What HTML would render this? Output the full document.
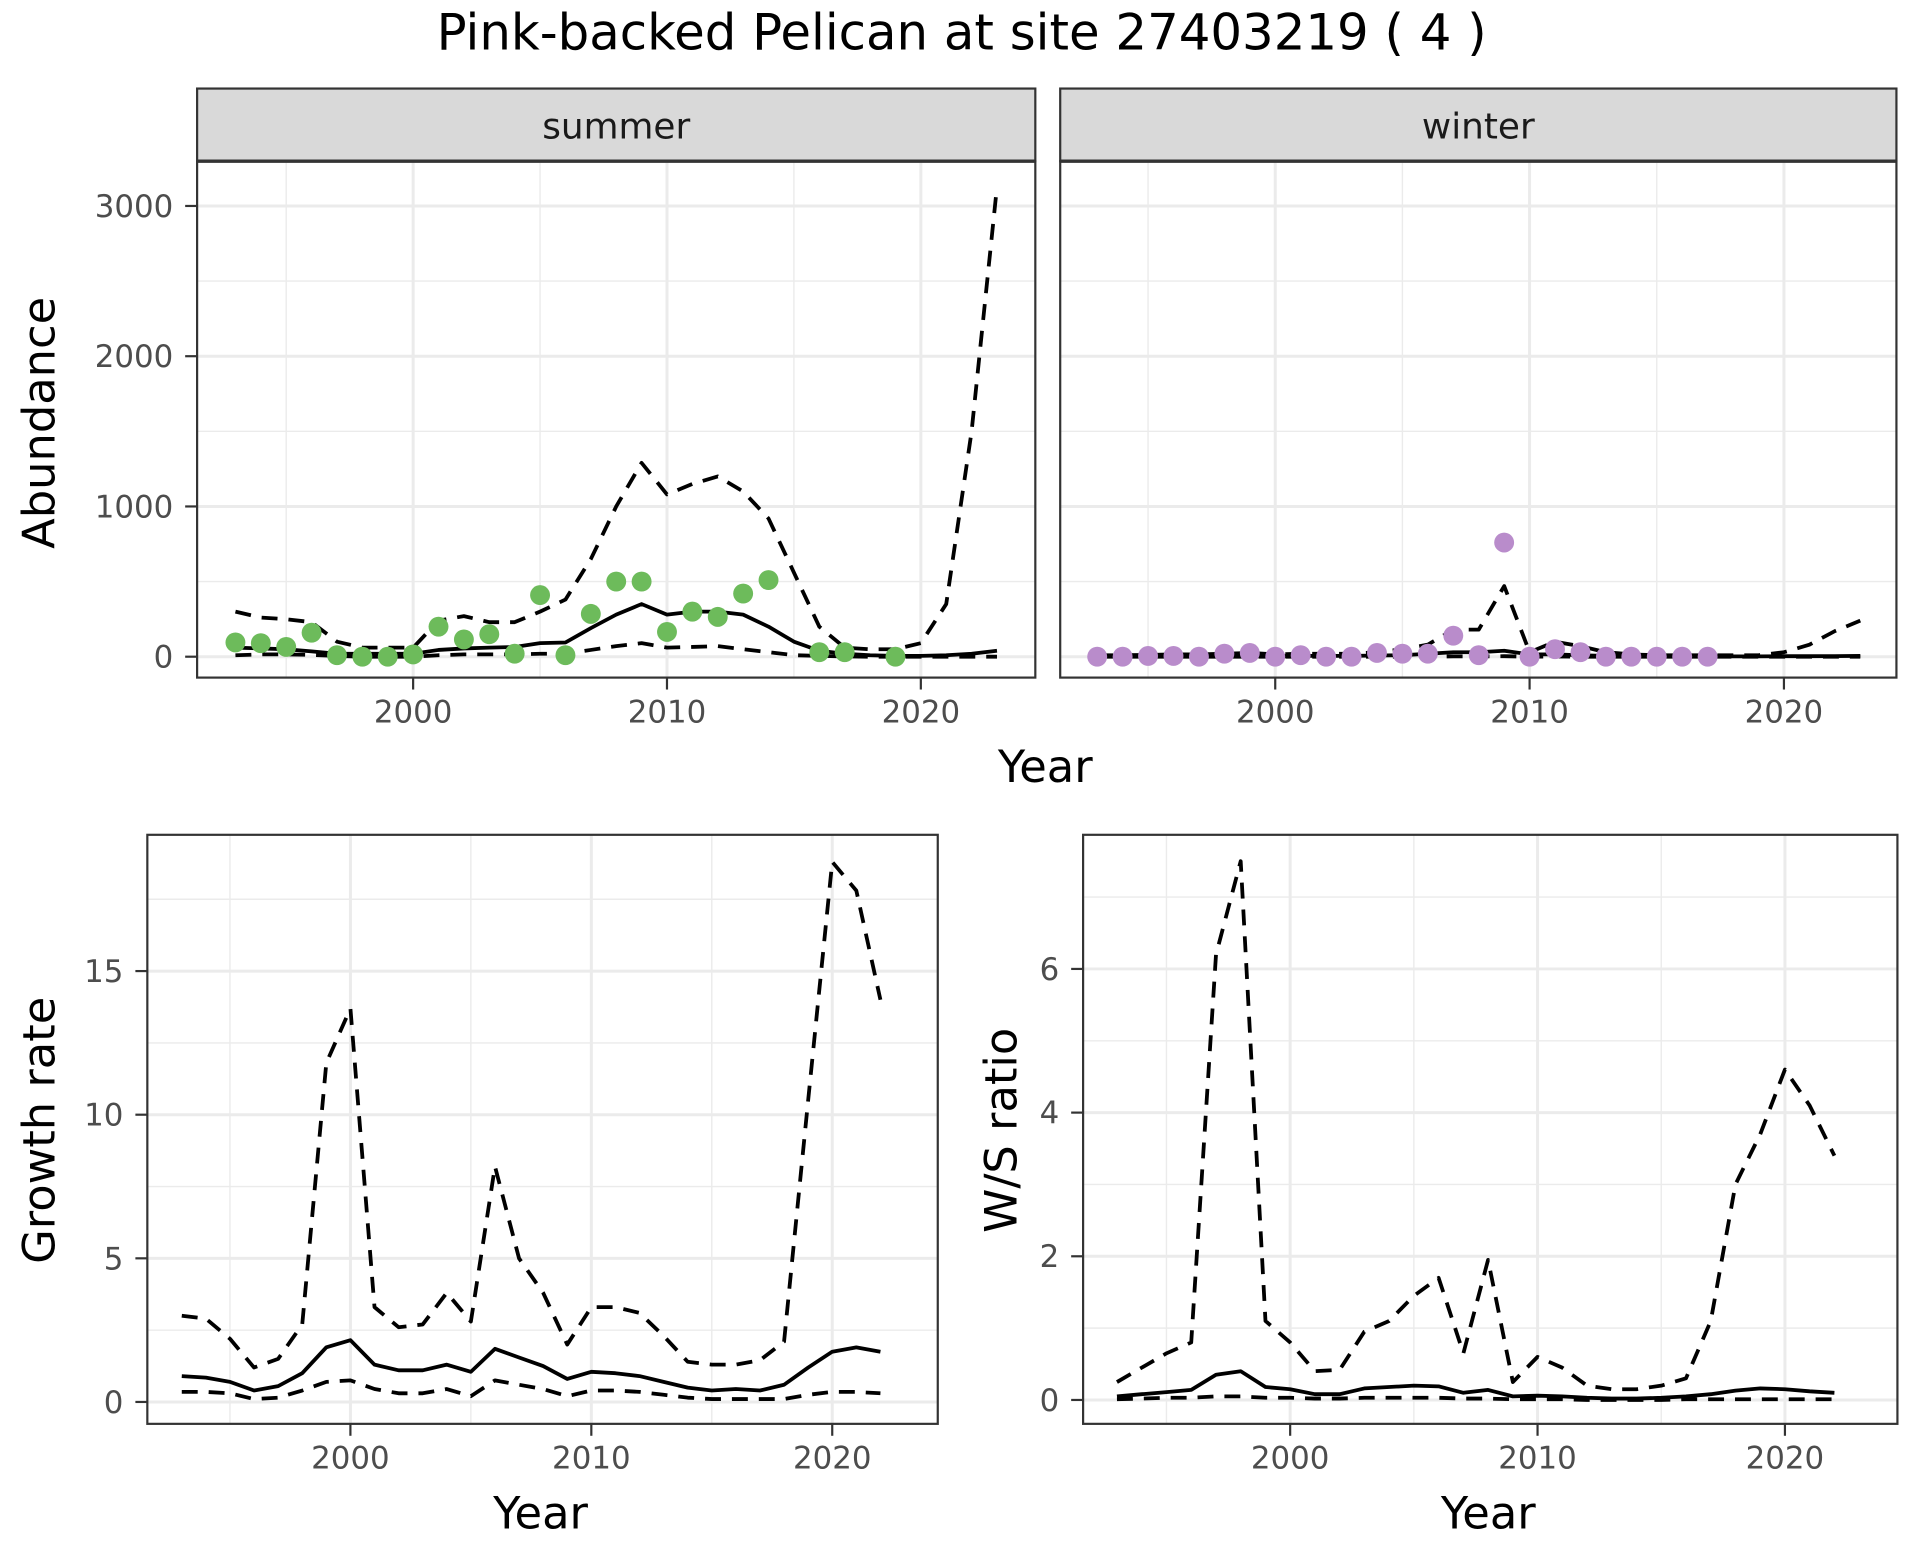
<!DOCTYPE html>
<html><head><meta charset="utf-8"><style>
html,body{margin:0;padding:0;background:#fff;}
svg{display:block;font-family:"DejaVu Sans","Liberation Sans",sans-serif;}
</style></head><body>
<svg width="1920" height="1560" viewBox="0 0 1920 1560" xmlns="http://www.w3.org/2000/svg">
<rect width="1920" height="1560" fill="#fff"/>
<g id="chart" transform="scale(0.9955,0.995)">
<text x="966" y="50" font-size="50" text-anchor="middle" fill="#000">Pink-backed Pelican at site 27403219 ( 4 )</text>
</g>
</svg>
<script>
const years = [1993,1994,1995,1996,1997,1998,1999,2000,2001,2002,2003,2004,2005,2006,2007,2008,2009,2010,2011,2012,2013,2014,2015,2016,2017,2018,2019,2020,2021,2022,2023];
const summerPtYears = [1993,1994,1995,1996,1997,1998,1999,2000,2001,2002,2003,2004,2005,2006,2007,2008,2009,2010,2011,2012,2013,2014,2016,2017,2019];
const summerPts = [95,90,65,160,10,0,0,15,200,115,150,20,410,10,285,500,500,165,300,265,420,510,30,30,0];
const summerMean = [60,55,50,35,20,20,20,20,45,55,60,65,90,95,190,280,350,280,300,300,280,200,100,40,20,10,5,5,10,20,40];
const summerUpper = [300,260,250,230,100,60,60,60,240,270,230,230,300,380,650,1000,1290,1080,1150,1200,1100,920,560,200,60,50,50,90,350,1500,3130];
const summerLower = [10,15,15,12,5,0,0,0,10,15,15,15,20,20,45,70,90,60,65,70,50,30,10,5,2,0,0,0,0,0,0];
const winterPtYears = [1993,1994,1995,1996,1997,1998,1999,2000,2001,2002,2003,2004,2005,2006,2007,2008,2009,2010,2011,2012,2013,2014,2015,2016,2017];
const winterPts = [0,0,5,5,0,20,25,0,10,0,0,25,20,20,140,10,760,0,50,30,0,0,0,0,0];
const winterMean = [2,2,2,3,3,5,5,3,5,5,5,8,10,20,30,30,40,15,15,10,5,3,2,2,2,2,2,3,3,4,5];
const winterUpper = [10,10,12,15,15,20,25,15,20,20,20,30,50,80,180,180,470,30,100,70,30,15,10,10,10,10,10,30,80,170,240];
const winterLower = [0,0,0,0,0,0,0,0,0,0,0,0,0,0,2,2,3,0,1,0,0,0,0,0,0,0,0,0,0,0,0];
const yrs2 = years.slice(0,30);
const growthMean = [0.9,0.85,0.7,0.4,0.55,1.0,1.9,2.15,1.3,1.1,1.1,1.3,1.05,1.85,1.55,1.25,0.8,1.05,1.0,0.9,0.7,0.5,0.4,0.45,0.4,0.6,1.2,1.75,1.9,1.75];
const growthUpper = [3.0,2.9,2.2,1.2,1.5,2.7,11.8,13.7,3.3,2.6,2.7,3.8,2.8,8.2,5.0,3.8,2.0,3.3,3.3,3.1,2.3,1.4,1.3,1.3,1.45,2.1,10.5,18.8,17.8,14.0];
const growthLower = [0.35,0.35,0.3,0.1,0.15,0.4,0.7,0.75,0.45,0.3,0.3,0.45,0.2,0.75,0.6,0.45,0.2,0.4,0.4,0.35,0.25,0.15,0.1,0.1,0.1,0.1,0.25,0.35,0.35,0.3];
const ratioMean = [0.05,0.08,0.11,0.14,0.35,0.4,0.18,0.15,0.08,0.08,0.16,0.18,0.2,0.19,0.1,0.14,0.05,0.06,0.05,0.03,0.02,0.02,0.03,0.05,0.08,0.13,0.16,0.15,0.12,0.1];
const ratioUpper = [0.25,0.45,0.65,0.8,6.2,7.5,1.1,0.8,0.4,0.42,0.95,1.1,1.45,1.7,0.65,1.95,0.25,0.6,0.45,0.2,0.15,0.15,0.2,0.3,1.1,3.0,3.7,4.6,4.1,3.4];
const ratioLower = [0.01,0.02,0.03,0.03,0.05,0.05,0.03,0.03,0.02,0.02,0.03,0.03,0.03,0.03,0.02,0.02,0.01,0.01,0.01,0.0,0.0,0.0,0.0,0.01,0.01,0.01,0.01,0.01,0.01,0.01];
const absTicks = [0,1000,2000,3000];
const absMinor = [500,1500,2500];
const growthTicks = [0,5,10,15];
const growthMinor = [2.5,7.5,12.5,17.5];
const ratioTicks = [0,2,4,6];
const ratioMinor = [1,3,5,7];
const xTicks = [2000,2010,2020];
const xMinor = [1995,2005,2015];

const svg = document.getElementById('chart');
const NS = 'http://www.w3.org/2000/svg';
function mk(tag, attrs, parent){const e=document.createElementNS(NS,tag);for(const k in attrs)e.setAttribute(k,attrs[k]);(parent||svg).appendChild(e);return e;}

function panel(cfg){
  const g = mk('g',{});
  
  
  const {x0,x1,y0,y1} = cfg;
  const sx = v => cfg.xa + (v - cfg.xv0) * cfg.xs;
  const sy = v => cfg.ya - v * cfg.ys;
  mk('rect',{x:x0,y:y0,width:x1-x0,height:y1-y0,fill:'#fff'},g);
  cfg.yMinor.forEach(v=>{const l=mk('line',{x1:x0,x2:x1,y1:sy(v),y2:sy(v),stroke:'#ebebeb','stroke-width':1.4},g);});
  xMinor.forEach(v=>{const l=mk('line',{x1:sx(v),x2:sx(v),y1:y0,y2:y1,stroke:'#ebebeb','stroke-width':1.4},g);});
  cfg.yTicks.forEach(v=>{const l=mk('line',{x1:x0,x2:x1,y1:sy(v),y2:sy(v),stroke:'#ebebeb','stroke-width':3},g);});
  xTicks.forEach(v=>{const l=mk('line',{x1:sx(v),x2:sx(v),y1:y0,y2:y1,stroke:'#ebebeb','stroke-width':3},g);});
  function line(xs, ys, dash, nm){
    const d = xs.map((x,i)=>(i?'L':'M')+sx(x).toFixed(1)+','+sy(ys[i]).toFixed(1)).join('');
    const p = mk('path',{d:d,fill:'none',stroke:'#000','stroke-width':3.8,'stroke-linejoin':'round'},g);
    if(dash) p.setAttribute('stroke-dasharray','16,11');
    
    
  }
  line(cfg.lx, cfg.lower, true, 'lower-bound-line');
  line(cfg.lx, cfg.upper, true, 'upper-bound-line');
  line(cfg.lx, cfg.mean, false, 'mean-line');
  if(cfg.pts){
    cfg.ptx.forEach((x,i)=>{
      const c = mk('circle',{cx:sx(x),cy:sy(cfg.pts[i]),r:10,fill:cfg.color},g);
      
      
    });
  }
  mk('rect',{x:x0,y:y0,width:x1-x0,height:y1-y0,fill:'none',stroke:'#333','stroke-width':2.2},g);
  if(cfg.yLabels){
    cfg.yTicks.forEach(v=>{
      mk('line',{x1:x0-12,x2:x0,y1:sy(v),y2:sy(v),stroke:'#333','stroke-width':2.2},g);
      const t = mk('text',{x:x0-24,y:sy(v)+11,'font-size':31,'text-anchor':'end',fill:'#4d4d4d'},g);
      t.textContent = v;
      
      
    });
  }
  xTicks.forEach(v=>{
    mk('line',{x1:sx(v),x2:sx(v),y1:y1,y2:y1+12,stroke:'#333','stroke-width':2.2},g);
    const t = mk('text',{x:sx(v),y:y1+45,'font-size':31,'text-anchor':'middle',fill:'#4d4d4d'},g);
    t.textContent = v;
    
    
  });
  if(cfg.strip){
    const s = mk('rect',{x:x0,y:89,width:x1-x0,height:y0-89,fill:'#d9d9d9',stroke:'#333','stroke-width':2.2},g);
    
    
    mk('line',{x1:x0,x2:x1,y1:y0,y2:y0,stroke:'#333','stroke-width':3.5},g);
    const t = mk('text',{x:(x0+x1)/2,y:139,'font-size':36,'text-anchor':'middle',fill:'#1a1a1a'},g);
    t.textContent = cfg.strip;
    
    
  }
}

panel({name:'summer-panel',x0:198,x1:1040,y0:162,y1:681,xa:415,xv0:2000,xs:25.5,ya:660,ys:0.151,yTicks:absTicks,yMinor:absMinor,yLabels:true,lx:years,mean:summerMean,upper:summerUpper,lower:summerLower,ptx:summerPtYears,pts:summerPts,color:'#6dbb5b',strip:'summer'});
panel({name:'winter-panel',x0:1065,x1:1905,y0:162,y1:681,xa:1281,xv0:2000,xs:25.55,ya:660,ys:0.151,yTicks:absTicks,yMinor:absMinor,yLabels:false,lx:years,mean:winterMean,upper:winterUpper,lower:winterLower,ptx:winterPtYears,pts:winterPts,color:'#b98ccb',strip:'winter'});
panel({name:'growth-rate-panel',x0:148,x1:942,y0:839,y1:1431,xa:352,xv0:2000,xs:24.2,ya:1409,ys:28.87,yTicks:growthTicks,yMinor:growthMinor,yLabels:true,lx:yrs2,mean:growthMean,upper:growthUpper,lower:growthLower});
panel({name:'ws-ratio-panel',x0:1088,x1:1906,y0:839,y1:1431,xa:1296,xv0:2000,xs:24.85,ya:1407,ys:72.2,yTicks:ratioTicks,yMinor:ratioMinor,yLabels:true,lx:yrs2,mean:ratioMean,upper:ratioUpper,lower:ratioLower});

function title(txt,x,y,rot,nm){
  const t = mk('text',{x:x,y:y,'font-size':45,'text-anchor':'middle',fill:'#000'});
  if(rot) t.setAttribute('transform','rotate(-90 '+x+' '+y+')');
  t.textContent = txt;
  
  
}
title('Year',1050,786,false,'x-axis-title-top');
title('Abundance',55,425,true,'y-axis-title-abundance');
title('Year',543,1536,false,'x-axis-title-growth');
title('Growth rate',55,1136,true,'y-axis-title-growth');
title('Year',1495,1536,false,'x-axis-title-ratio');
title('W/S ratio',1021,1136,true,'y-axis-title-ratio');
</script>
</body></html>
